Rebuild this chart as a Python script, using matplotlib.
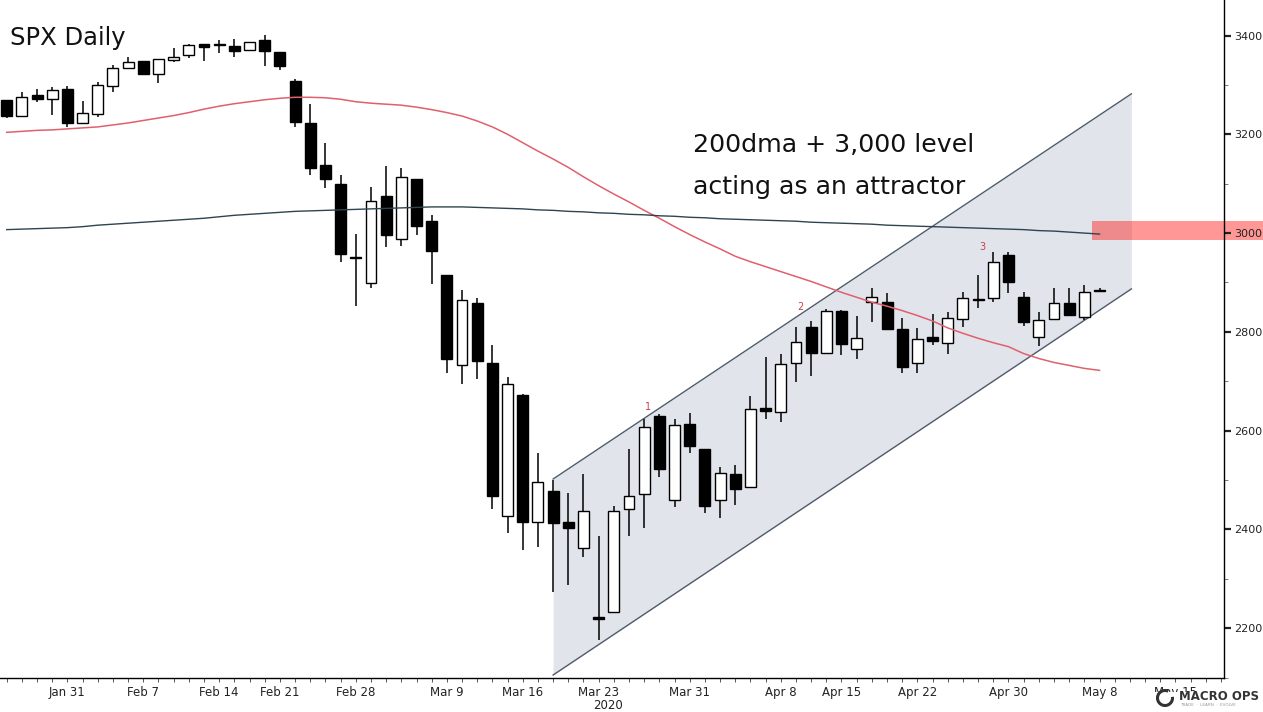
import matplotlib.pyplot as plt
from matplotlib.patches import Rectangle, Arc

# ── Data ──────────────────────────────────────────────────
# trading days 27 Jan 2020 .. 8 May 2020 (index 0..72)
opens = [3269, 3238, 3280, 3271, 3292,            # Jan 27-31
         3222, 3241, 3298, 3335, 3348,            # Feb 3-7
         3322, 3350, 3360, 3382, 3380,            # Feb 10-14
         3379, 3371, 3391, 3366,                  # Feb 18-21
         3308, 3222, 3137, 3099, 2952,            # Feb 24-28
         2898, 3076, 2987, 3109, 3024,            # Mar 2-6
         2915, 2732, 2858, 2736, 2427,            # Mar 9-13
         2673, 2415, 2478, 2414, 2363,            # Mar 16-20
         2222, 2232, 2442, 2471, 2629,            # Mar 23-27
         2459, 2613, 2562, 2459, 2513,            # Mar 30-Apr 3
         2485, 2645, 2638, 2736,                  # Apr 6-9
         2809, 2758, 2843, 2766, 2861,            # Apr 13-17
         2860, 2805, 2736, 2789, 2777,            # Apr 20-24
         2827, 2865, 2869, 2955, 2870,            # Apr 27-May 1
         2789, 2825, 2858, 2830, 2882]            # May 4-8
highs = [3270, 3286, 3291, 3295, 3298,
         3268, 3306, 3340, 3356, 3349,
         3353, 3374, 3382, 3383, 3390,
         3393, 3387, 3401, 3367,
         3313, 3261, 3183, 3118, 2998,
         3094, 3136, 3131, 3110, 3036,
         2916, 2885, 2868, 2773, 2709,
         2675, 2555, 2500, 2474, 2513,
         2386, 2447, 2562, 2623, 2633,
         2623, 2636, 2563, 2527, 2530,
         2670, 2749, 2755, 2809,
         2822, 2847, 2845, 2832, 2888,
         2878, 2829, 2807, 2837, 2841,
         2881, 2915, 2962, 2962, 2881,
         2841, 2888, 2888, 2895, 2888]
lows = [3233, 3237, 3265, 3239, 3214,
        3220, 3236, 3286, 3334, 3322,
        3303, 3347, 3354, 3348, 3364,
        3356, 3370, 3338, 3330,
        3214, 3118, 3091, 2942, 2852,
        2889, 2972, 2974, 2996, 2896,
        2716, 2695, 2704, 2442, 2392,
        2359, 2364, 2273, 2287, 2344,
        2175, 2231, 2386, 2403, 2506,
        2446, 2555, 2433, 2424, 2449,
        2484, 2624, 2618, 2699,
        2711, 2757, 2753, 2744, 2820,
        2803, 2716, 2717, 2773, 2756,
        2810, 2849, 2861, 2879, 2812,
        2771, 2824, 2833, 2824, 2881]
closes = [3237, 3276, 3271, 3290, 3222,
          3244, 3299, 3334, 3346, 3323,
          3352, 3356, 3381, 3377, 3381,
          3369, 3386, 3369, 3338,
          3224, 3131, 3109, 2957, 2950,
          3064, 2996, 3113, 3014, 2964,
          2745, 2864, 2740, 2468, 2695,
          2415, 2496, 2412, 2402, 2437,
          2219, 2437, 2467, 2608, 2523,
          2612, 2569, 2447, 2515, 2481,
          2643, 2640, 2735, 2779,
          2758, 2842, 2775, 2787, 2870,
          2805, 2729, 2786, 2781, 2829,
          2868, 2866, 2942, 2901, 2820,
          2824, 2858, 2834, 2881, 2884]

ma50 = [3204, 3206, 3208, 3209, 3211, 3213, 3215, 3219, 3223, 3228,
        3233, 3238, 3244, 3251, 3257, 3262, 3266, 3270, 3273, 3275,
        3275, 3274, 3271, 3266, 3263, 3261, 3259, 3255, 3250, 3244,
        3237, 3227, 3215, 3200, 3183, 3166, 3150, 3133, 3114, 3096,
        3079, 3063, 3046, 3030, 3013, 2997, 2982, 2968, 2953, 2942,
        2932, 2922, 2912, 2902, 2891, 2880, 2870, 2860, 2852, 2843,
        2833, 2822, 2808, 2797, 2787, 2778, 2770, 2756, 2746, 2738,
        2732, 2726, 2722]
ma200 = [3007, 3008, 3009, 3010, 3011, 3013, 3016, 3018, 3020, 3022,
         3024, 3026, 3028, 3030, 3033, 3036, 3038, 3040, 3042, 3044,
         3045, 3046, 3047, 3048, 3049, 3050, 3051, 3052, 3053, 3053,
         3053, 3052, 3051, 3050, 3049, 3047, 3046, 3044, 3043, 3041,
         3040, 3038, 3037, 3035, 3034, 3032, 3031, 3029, 3028, 3027,
         3026, 3025, 3024, 3022, 3021, 3020, 3019, 3018, 3016, 3015,
         3014, 3013, 3012, 3011, 3010, 3009, 3008, 3007, 3005, 3004,
         3002, 3000, 2998]

# rising channel (day index, lower, upper)
chan_x = [36, 74.1]
chan_lower = [2105, 2887]
chan_upper = [2502, 3282]

# touches of channel top
touch_x = [42.25, 52.3, 64.3]
touch_y = [2647, 2850, 2972]
touch_lab = ["1", "2", "3"]

tick_idx = [4, 9, 14, 18, 23, 29, 34, 39, 45, 51, 55, 60, 66, 72, 77]
tick_lab = ["Jan 31", "Feb 7", "Feb 14", "Feb 21", "Feb 28", "Mar 9", "Mar 16",
            "Mar 23", "Mar 31", "Apr 8", "Apr 15", "Apr 22", "Apr 30",
            "May 8", "May 15"]

# ── Figure ────────────────────────────────────────────────
W, H = 1263, 712
fig = plt.figure(figsize=(W / 100, H / 100), dpi=100)
fig.patch.set_facecolor("white")
ax = fig.add_axes([0, 34 / H, 1224 / W, 678 / H])
ax.set_xlim(-0.44, 80.2)
ax.set_ylim(2099, 3472)

# channel
ax.fill_between(chan_x, chan_lower, chan_upper, color="#e1e4eb",
                lw=0, zorder=0)
ax.plot(chan_x, chan_upper, color="#4f5c6a", lw=1.0, zorder=1)
ax.plot(chan_x, chan_lower, color="#4f5c6a", lw=1.0, zorder=1)

# candles
bw = 0.72
for i, (o, h, l, c) in enumerate(zip(opens, highs, lows, closes)):
    ax.vlines(i, l, h, color="black", lw=1.1, zorder=3)
    up = c >= o
    body = max(abs(c - o), 2.5)
    ax.add_patch(Rectangle((i - bw / 2, min(o, c)), bw, body,
                           facecolor="white" if up else "black",
                           edgecolor="black", lw=1.0, zorder=4))

# moving averages
days = range(len(ma50))
ax.plot(days, ma50, color="#e0606c", lw=1.1, zorder=5)
ax.plot(days, ma200, color="#2e4452", lw=1.0, zorder=5)

# 3000 zone
ax.axhspan(2986, 3024, xmin=1092 / 1224, xmax=W / 1224,
           facecolor="#ff1a1a", alpha=0.45, lw=0, clip_on=False, zorder=1)

for x, y, t in zip(touch_x, touch_y, touch_lab):
    ax.text(x, y, t, color="#c8404a", fontsize=7, ha="center", va="center")

# annotations
ax.text(0.008, 0.944, "SPX Daily", transform=ax.transAxes, fontsize=17.5,
        color="#111111", va="center", ha="left")
ax.text(693 / 1224, 1 - 145 / 678, "200dma + 3,000 level",
        transform=ax.transAxes, fontsize=18.2, color="#111111", va="center")
ax.text(693 / 1224, 1 - 187 / 678, "acting as an attractor",
        transform=ax.transAxes, fontsize=18.2, color="#111111", va="center")

# axes styling
for s in ["left", "top"]:
    ax.spines[s].set_visible(False)
ax.spines["right"].set_linewidth(1.0)
ax.spines["bottom"].set_linewidth(1.0)

ax.yaxis.tick_right()
ax.set_yticks(range(2200, 3401, 200))
ax.set_yticks(range(2100, 3472, 100), minor=True)
ax.tick_params(axis="y", which="major", length=5, width=1.6,
               labelsize=8, colors="#222222", pad=2)
ax.tick_params(axis="y", which="minor", length=3, width=0.6, color="#666666")

ax.set_xticks(tick_idx)
ax.set_xticklabels(tick_lab)
ax.set_xticks(range(0, 81), minor=True)
ax.tick_params(axis="x", which="both", length=3, width=0.7,
               color="#555555", labelsize=8.5, labelcolor="#222222", pad=3)
for lab in ax.get_xticklabels():
    lab.set_family(["Liberation Sans Narrow", "DejaVu Sans"])

ax.text(39.6, -0.04, "2020", transform=ax.get_xaxis_transform(),
        ha="center", va="center", fontsize=8.5, color="#222222",
        family=["Liberation Sans Narrow", "DejaVu Sans"])

# logo (white plate hides the lower half of the last date label)
fig.patches.append(Rectangle((1150 / W, 0), 113 / W, 20 / H,
                             transform=fig.transFigure, facecolor="white",
                             edgecolor="none", zorder=1))
fig.patches.append(Arc((1165 / W, 1 - 698 / H), 15 / W, 15 / H,
                       theta1=75, theta2=375, transform=fig.transFigure,
                       edgecolor="#333333", lw=2.2, zorder=2))
fig.text(1179 / W, 1 - 696 / H, "MACRO OPS", fontsize=8.5, fontweight="bold",
         color="#333333", va="center", ha="left", zorder=3)
fig.text(1180 / W, 1 - 705 / H, "TRADE  ·  LEARN  ·  EVOLVE", fontsize=3,
         color="#999999", va="center", ha="left", zorder=3)

fig.savefig("out.png", dpi=100, facecolor="white")
